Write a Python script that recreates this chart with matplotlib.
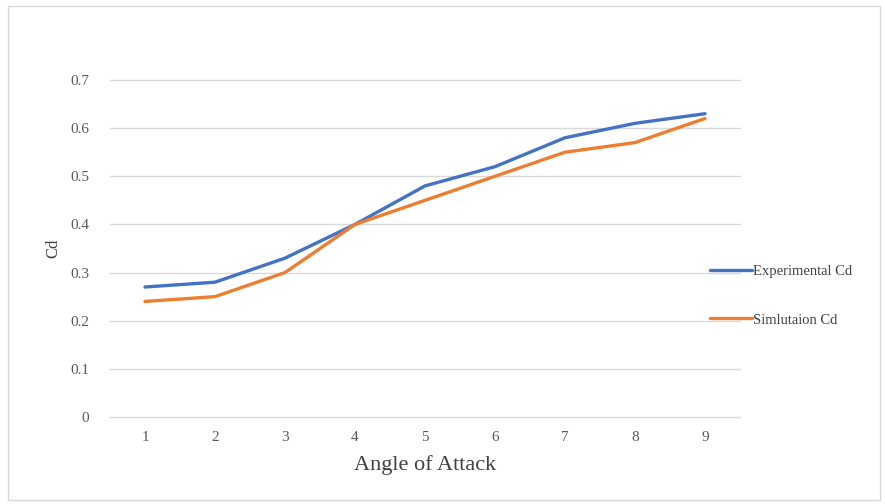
import matplotlib.pyplot as plt
from matplotlib.patches import Rectangle

angles = [1, 2, 3, 4, 5, 6, 7, 8, 9]
experimental_cd = [0.27, 0.28, 0.33, 0.40, 0.48, 0.52, 0.58, 0.61, 0.63]
simulation_cd = [0.24, 0.25, 0.30, 0.40, 0.45, 0.50, 0.55, 0.57, 0.62]
y_ticks = [0, 0.1, 0.2, 0.3, 0.4, 0.5, 0.6, 0.7]
y_tick_labels = ['0', '0.1', '0.2', '0.3', '0.4', '0.5', '0.6', '0.7']

plt.rcParams['font.family'] = ['Liberation Serif', 'DejaVu Serif']

fig = plt.figure(figsize=(8.85, 5.04), dpi=100)
ax = fig.add_axes([110 / 885, 1 - 417 / 504, 630 / 885, 337 / 504])

ax.plot(angles, experimental_cd, color='#4472C4', lw=2.4, label='Experimental Cd', solid_capstyle='round')
ax.plot(angles, simulation_cd, color='#ED7D31', lw=2.4, label='Simlutaion Cd', solid_capstyle='round')

ax.set_xlim(0.5, 9.5)
ax.set_ylim(0, 0.7)
ax.set_xticks(angles)
ax.set_yticks(y_ticks)
ax.set_yticklabels(y_tick_labels)
ax.tick_params(length=0, colors='#595959', labelsize=11, pad=15)
ax.tick_params(axis='x', pad=10)
ax.grid(axis='y', color='#D9D9D9', lw=1)
for gl in ax.get_ygridlines():
    gl.set_clip_on(False)
ax.set_axisbelow(True)
for s in ax.spines.values():
    s.set_visible(False)

ax.set_xlabel('Angle of Attack', fontsize=16, color='#404040', labelpad=8)
ax.set_ylabel('Cd', fontsize=12, color='#404040', labelpad=6)

fig.legend(loc='upper left', bbox_to_anchor=(697 / 885, 1 - 252 / 504),
           frameon=False, fontsize=10.5, handlelength=2.9, handletextpad=0.05,
           labelspacing=2.4, labelcolor='#404040')

fig.patches.append(Rectangle((8 / 885, 4 / 504), 872 / 885, 494 / 504,
                             transform=fig.transFigure, fill=False,
                             edgecolor='#D9D9D9', lw=1))

fig.savefig('out.png', dpi=100)
